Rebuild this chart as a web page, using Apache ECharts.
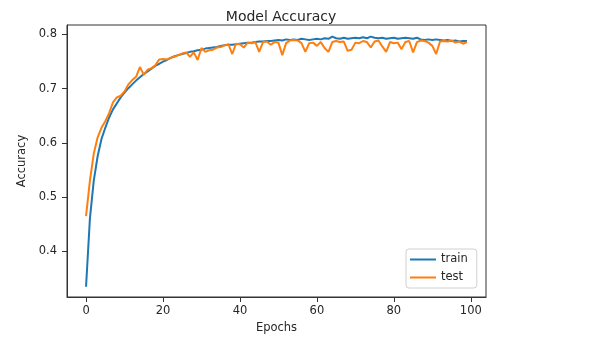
<!DOCTYPE html>
<html>
<head>
<meta charset="utf-8">
<script src="https://cdn.jsdelivr.net/npm/echarts@6/dist/echarts.min.js"></script>
<style>
html,body{margin:0;padding:0;background:#fff;}
#chart{width:597px;height:350px;}
</style>
</head>
<body>
<div id="chart"></div>
<script>
const trainAcc = [
  0.335, 0.460, 0.530, 0.575, 0.607, 0.628, 0.647, 0.662, 0.673, 0.684,
  0.693, 0.701, 0.708, 0.715, 0.721, 0.727, 0.732, 0.737, 0.742, 0.746,
  0.750, 0.753, 0.757, 0.760, 0.762, 0.764, 0.766, 0.768, 0.769, 0.771,
  0.772, 0.774, 0.775, 0.776, 0.777, 0.779, 0.780, 0.781, 0.781, 0.782,
  0.783, 0.784, 0.785, 0.785, 0.786, 0.787, 0.787, 0.788, 0.788, 0.789,
  0.790, 0.789, 0.791, 0.790, 0.791, 0.790, 0.792, 0.791, 0.790, 0.791,
  0.792, 0.791, 0.793, 0.792, 0.796, 0.793, 0.792, 0.794, 0.792, 0.793,
  0.794, 0.793, 0.795, 0.793, 0.796, 0.794, 0.793, 0.794, 0.792, 0.793,
  0.794, 0.792, 0.793, 0.794, 0.793, 0.792, 0.794, 0.791, 0.790, 0.791,
  0.790, 0.791, 0.790, 0.789, 0.790, 0.788, 0.789, 0.787, 0.788, 0.788
];
const testAcc = [
  0.465, 0.530, 0.580, 0.610, 0.628, 0.640, 0.655, 0.675, 0.684, 0.687,
  0.695, 0.708, 0.716, 0.722, 0.740, 0.726, 0.735, 0.738, 0.743, 0.754,
  0.755, 0.754, 0.757, 0.759, 0.762, 0.765, 0.767, 0.759, 0.767, 0.753,
  0.775, 0.768, 0.771, 0.772, 0.776, 0.777, 0.780, 0.782, 0.764, 0.783,
  0.782, 0.776, 0.785, 0.784, 0.786, 0.768, 0.786, 0.787, 0.781, 0.786,
  0.785, 0.762, 0.784, 0.789, 0.790, 0.789, 0.784, 0.768, 0.784, 0.785,
  0.779, 0.786, 0.775, 0.768, 0.786, 0.788, 0.786, 0.787, 0.770, 0.772,
  0.785, 0.784, 0.788, 0.786, 0.776, 0.787, 0.789, 0.778, 0.768, 0.786,
  0.784, 0.785, 0.773, 0.786, 0.788, 0.767, 0.786, 0.789, 0.788, 0.785,
  0.779, 0.764, 0.787, 0.788, 0.787, 0.789, 0.785, 0.787, 0.783, 0.786
];
const xTicks = [0, 20, 40, 60, 80, 100];
const yTicks = [0.4, 0.5, 0.6, 0.7, 0.8];
const seriesNames = ['train', 'test'];
const titleText = 'Model Accuracy';
const xName = 'Epochs';
const yName = 'Accuracy';

const toPairs = arr => arr.map((v, i) => [i, v]);
const FONT = 'DejaVu Sans';
const TXT = '#262626';
const AX = '#333';

const chart = echarts.init(document.getElementById('chart'), null, {renderer: 'canvas'});
chart.setOption({
  animation: false,
  backgroundColor: '#fff',
  title: {
    text: titleText,
    left: 276, top: 5, textAlign: 'center',
    textStyle: {fontFamily: FONT, fontSize: 14, fontWeight: 'normal', color: TXT}
  },
  grid: {
    left: 67, right: 111, top: 25, bottom: 53,
    show: true, borderColor: AX, borderWidth: 1, backgroundColor: 'transparent'
  },
  legend: {
    data: seriesNames.map(n => ({name: n, icon: 'rect'})),
    orient: 'vertical',
    left: 406, top: 249,
    itemWidth: 26, itemHeight: 2, itemGap: 5,
    padding: [4, 9, 4, 4],
    backgroundColor: 'rgba(255,255,255,0.8)',
    borderColor: '#d0d0d0', borderWidth: 1, borderRadius: 3,
    textStyle: {fontFamily: FONT, fontSize: 11.5, color: TXT, lineHeight: 13}
  },
  xAxis: {
    type: 'value', min: -4.95, max: 103.95,
    name: xName, nameLocation: 'middle', nameGap: 25,
    nameTextStyle: {fontFamily: FONT, fontSize: 11.5, color: TXT},
    splitLine: {show: false},
    axisLine: {show: true, onZero: false, lineStyle: {color: AX, width: 1}},
    axisTick: {show: true, inside: false, length: 5, customValues: xTicks, lineStyle: {color: AX}},
    axisLabel: {customValues: xTicks, margin: 8, fontFamily: FONT, fontSize: 11.5, color: TXT}
  },
  yAxis: {
    type: 'value', min: 0.316, max: 0.8175,
    name: yName, nameLocation: 'middle', nameGap: 37, nameRotate: 90,
    nameTextStyle: {fontFamily: FONT, fontSize: 11.5, color: TXT},
    splitLine: {show: false},
    axisLine: {show: true, onZero: false, lineStyle: {color: AX, width: 1}},
    axisTick: {show: true, inside: false, length: 5, customValues: yTicks, lineStyle: {color: AX}},
    axisLabel: {customValues: yTicks, margin: 10, fontFamily: FONT, fontSize: 11.5, color: TXT,
      formatter: v => v.toFixed(1)}
  },
  series: [
    {name: seriesNames[0], type: 'line', data: toPairs(trainAcc), showSymbol: false,
     lineStyle: {width: 2, color: '#1f77b4'}, itemStyle: {color: '#1f77b4'}, z: 2},
    {name: seriesNames[1], type: 'line', data: toPairs(testAcc), showSymbol: false,
     lineStyle: {width: 2, color: '#ff7f0e'}, itemStyle: {color: '#ff7f0e'}, z: 3}
  ]
});
</script>
</body>
</html>
